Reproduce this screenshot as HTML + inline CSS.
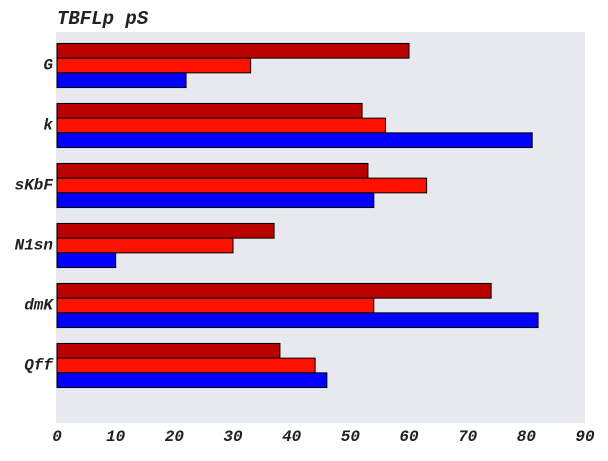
<!DOCTYPE html>
<html><head><meta charset="utf-8"><style>
body{margin:0;background:#fff;}
svg text{font-family:"Liberation Mono",monospace;font-weight:bold;font-style:italic;fill:#222;}
</style></head><body>
<svg width="608" height="456" id="c">
<text x="57" y="24" font-size="19">TBFLp pS</text>
<rect x="56" y="32" width="529" height="391" fill="#e8e8f1"/>
<g id="bars"></g><g id="yl"></g><g id="xl"></g>
</svg>
<script>
const categories=["G","k","sKbF","N1sn","dmK","Qff"];
const seriesDark=[60,52,53,37,74,38];
const seriesRed=[33,56,63,30,54,44];
const seriesBlue=[22,81,54,10,82,46];
const xTicks=[0,10,20,30,40,50,60,70,80,90];
const NS="http://www.w3.org/2000/svg";
const x0=57,x1=585,xMax=90;
const xs=v=>x0+v/xMax*(x1-x0);
const yc=i=>65.5+60*i;
const bh=14.7;
const series=[{d:seriesDark,c:"#bb0000",n:"dark"},{d:seriesRed,c:"#ff1100",n:"red"},{d:seriesBlue,c:"#0000ff",n:"blue"}];
const gb=document.getElementById("bars"),gy=document.getElementById("yl"),gx=document.getElementById("xl");
categories.forEach((cat,i)=>{
 series.forEach((s,j)=>{
  const r=document.createElementNS(NS,"rect");
  r.setAttribute("x",xs(0));r.setAttribute("y",yc(i)-1.5*bh+j*bh);
  r.setAttribute("width",xs(s.d[i])-xs(0));r.setAttribute("height",bh);
  r.setAttribute("fill",s.c);r.setAttribute("stroke","#000");r.setAttribute("stroke-width","1");
  
  
  gb.appendChild(r);
 });
 const t=document.createElementNS(NS,"text");
 t.setAttribute("x",53);t.setAttribute("y",yc(i)+4);t.setAttribute("text-anchor","end");t.setAttribute("font-size","16");
 t.textContent=cat;
 
 
 gy.appendChild(t);
});
xTicks.forEach(v=>{
 const t=document.createElementNS(NS,"text");
 t.setAttribute("x",xs(v));t.setAttribute("y",441);t.setAttribute("text-anchor","middle");t.setAttribute("font-size","16");
 t.textContent=v;
 
 
 gx.appendChild(t);
});
</script>
</body></html>
